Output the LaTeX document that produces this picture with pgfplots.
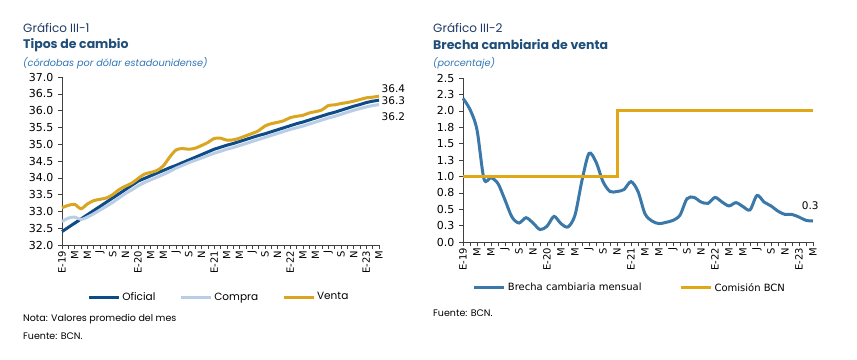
\documentclass[border=0pt]{standalone}
\usepackage{fontspec}
\setmainfont{Poppins}
\newfontfamily\dv{DejaVu Sans}
\usepackage{pgfplots}
\pgfplotsset{compat=1.18}
\definecolor{titblue}{RGB}{31,78,121}
\definecolor{gblue}{RGB}{31,56,100}
\definecolor{subblue}{RGB}{46,117,182}
\definecolor{oficial}{RGB}{14,75,135}
\definecolor{compra}{RGB}{185,205,228}
\definecolor{venta}{RGB}{218,165,32}
\definecolor{brecha}{RGB}{58,120,170}
\definecolor{comision}{RGB}{224,168,20}
\pgfplotsset{
  base/.style={
    scale only axis,
    axis lines=left,
    axis line style={-, draw=black!75, line width=0.8pt},
    tick style={draw=black!75, line width=0.6pt},
    tick align=outside,
    major tick length=4pt,
    minor tick length=4pt,
    xmin=0, xmax=50,
    xtick={0,2,...,50},
    minor xtick={0,1,...,50},
    xticklabels={E-19,M,M,J,S,N,E-20,M,M,J,S,N,E-21,M,M,J,S,N,E-22,M,M,J,S,N,E-23,M},
    x tick label style={rotate=90, anchor=east, font=\dv\fontsize{10}{11}\selectfont, inner sep=1.5pt},
    y tick label style={font=\dv\fontsize{11}{12}\selectfont, inner sep=1.5pt, xshift=-3pt},
    clip=false,
    legend style={draw=none, fill=none, legend columns=3},
    legend image code/.code={\draw[#1, line width=3pt] (0pt,0pt) -- (30pt,0pt);},
  }
}
\begin{document}
\begin{tikzpicture}
\path[use as bounding box] (0pt,0pt) rectangle (857pt,-359pt);
% ---------- left texts
\node[anchor=west, inner sep=0pt, text=gblue, font=\fontsize{12}{14}\selectfont] at (23pt,-27.5pt) {Gráfico III-1};
\node[anchor=west, inner sep=0pt, text=titblue, font=\bfseries\fontsize{12.5}{14}\selectfont] at (23pt,-45pt) {Tipos de cambio};
\node[anchor=west, inner sep=0pt, text=subblue, font=\itshape\fontsize{9.7}{11}\selectfont] at (23pt,-63pt) {(córdobas por dólar estadounidense)};
\node[anchor=west, inner sep=0pt, font=\fontsize{9.5}{11}\selectfont] at (23pt,-319pt) {Nota: Valores promedio del mes};
\node[anchor=west, inner sep=0pt, font=\fontsize{9.5}{11}\selectfont] at (23pt,-336pt) {Fuente: BCN.};
% ---------- right texts
\node[anchor=west, inner sep=0pt, text=gblue, font=\fontsize{12}{14}\selectfont] at (433pt,-27.5pt) {Gráfico III-2};
\node[anchor=west, inner sep=0pt, text=titblue, font=\bfseries\fontsize{12.5}{14}\selectfont] at (433pt,-45pt) {Brecha cambiaria de venta};
\node[anchor=west, inner sep=0pt, text=subblue, font=\itshape\fontsize{9.7}{11}\selectfont] at (433pt,-63pt) {(porcentaje)};
\node[anchor=west, inner sep=0pt, font=\fontsize{9.5}{11}\selectfont] at (433pt,-313pt) {Fuente: BCN.};

% ---------- left chart
\begin{axis}[base,
  at={(62pt,-245pt)}, anchor=south west,
  width=317pt, height=168pt,
  ymin=32, ymax=37,
  ytick={32,32.5,33,33.5,34,34.5,35,35.5,36,36.5,37},
  yticklabels={32.0,32.5,33.0,33.5,34.0,34.5,35.0,35.5,36.0,36.5,37.0},
  legend style={at={(0.495,-0.31)}, anchor=center, font=\fontsize{10.5}{12}\selectfont},
  /tikz/every even column/.append style={column sep=22pt},
]
\addplot[oficial, line width=3pt] coordinates {
(0,32.40)(1,32.525)(2,32.65)(3,32.775)(4,32.90)(5,33.025)(6,33.15)(7,33.275)(8,33.40)(9,33.525)(10,33.65)(11,33.775)(12,33.90)
(13,33.98)(14,34.06)(15,34.14)(16,34.22)(17,34.30)(18,34.37)(19,34.45)(20,34.53)(21,34.61)(22,34.69)(23,34.77)(24,34.85)
(25,34.91)(26,34.97)(27,35.02)(28,35.08)(29,35.14)(30,35.20)(31,35.26)(32,35.31)(33,35.37)(34,35.43)(35,35.49)(36,35.55)
(37,35.61)(38,35.66)(39,35.72)(40,35.78)(41,35.84)(42,35.90)(43,35.95)(44,36.01)(45,36.07)(46,36.13)(47,36.18)(48,36.24)
(49,36.28)(50,36.31)};
\addlegendentry{Oficial}
\addplot[compra, line width=3pt, smooth] coordinates {
(0,32.70)(1,32.80)(2,32.83)(3,32.76)(4,32.83)(5,32.93)(6,33.04)(7,33.15)(8,33.27)(9,33.40)(10,33.53)(11,33.64)(12,33.76)
(13,33.86)(14,33.94)(15,34.02)(16,34.10)(17,34.19)(18,34.29)(19,34.37)(20,34.45)(21,34.52)(22,34.59)(23,34.66)(24,34.73)
(25,34.79)(26,34.85)(27,34.90)(28,34.96)(29,35.02)(30,35.08)(31,35.14)(32,35.20)(33,35.26)(34,35.32)(35,35.38)(36,35.44)
(37,35.49)(38,35.54)(39,35.60)(40,35.66)(41,35.72)(42,35.78)(43,35.83)(44,35.89)(45,35.95)(46,36.01)(47,36.06)(48,36.11)
(49,36.15)(50,36.18)};
\addlegendentry{Compra}
\addplot[venta, line width=3pt, smooth] coordinates {
(0,33.11)(1,33.18)(2,33.21)(3,33.08)(4,33.22)(5,33.32)(6,33.36)(7,33.40)(8,33.50)(9,33.65)(10,33.75)(11,33.84)(12,33.98)
(13,34.11)(14,34.16)(15,34.22)(16,34.36)(17,34.62)(18,34.83)(19,34.87)(20,34.85)(21,34.88)(22,34.96)(23,35.05)(24,35.17)
(25,35.18)(26,35.12)(27,35.13)(28,35.18)(29,35.25)(30,35.32)(31,35.40)(32,35.54)(33,35.61)(34,35.65)(35,35.70)(36,35.79)
(37,35.83)(38,35.86)(39,35.93)(40,35.97)(41,36.02)(42,36.15)(43,36.17)(44,36.21)(45,36.24)(46,36.28)(47,36.33)(48,36.38)
(49,36.40)(50,36.43)};
\addlegendentry{Venta}
\node[anchor=west, inner sep=0pt, font=\dv\fontsize{10.5}{12}\selectfont] at (axis cs:50.4,36.64) {36.4};
\node[anchor=west, inner sep=0pt, font=\dv\fontsize{10.5}{12}\selectfont] at (axis cs:50.4,36.29) {36.3};
\node[anchor=west, inner sep=0pt, font=\dv\fontsize{10.5}{12}\selectfont] at (axis cs:50.4,35.81) {36.2};
\end{axis}

% ---------- right chart
\begin{axis}[base,
  at={(463pt,-242pt)}, anchor=south west,
  width=350pt, height=164pt,
  ymin=0, ymax=2.5,
  ytick={0,0.25,0.5,0.75,1,1.25,1.5,1.75,2,2.25,2.5},
  yticklabels={0.0,0.3,0.5,0.8,1.0,1.3,1.5,1.8,2.0,2.3,2.5},
  legend style={at={(0.477,-0.28)}, anchor=center, font=\dv\fontsize{10}{12}\selectfont},
  /tikz/every even column/.append style={column sep=36pt},
]
\addplot[brecha, line width=3pt, smooth] coordinates {
(0,2.19)(1,2.02)(2,1.71)(3,0.96)(4,0.98)(5,0.89)(6,0.64)(7,0.38)(8,0.29)(9,0.37)(10,0.29)
(11,0.19)(12,0.24)(13,0.39)(14,0.28)(15,0.23)(16,0.41)(17,0.94)(18,1.35)(19,1.22)(20,0.92)
(21,0.77)(22,0.77)(23,0.80)(24,0.92)(25,0.77)(26,0.43)(27,0.32)(28,0.28)(29,0.30)(30,0.33)
(31,0.41)(32,0.66)(33,0.68)(34,0.61)(35,0.59)(36,0.68)(37,0.61)(38,0.55)(39,0.60)(40,0.54)
(41,0.49)(42,0.71)(43,0.61)(44,0.55)(45,0.47)(46,0.42)(47,0.42)(48,0.38)(49,0.33)(50,0.32)};
\addlegendentry{Brecha cambiaria mensual}
\addplot[comision, line width=3pt] coordinates {(0,1)(22,1)(22,2)(50,2)};
\addlegendentry{Comisión BCN}
\node[font=\dv\fontsize{10.5}{12}\selectfont] at (axis cs:49.6,0.55) {0.3};
\end{axis}
\end{tikzpicture}
\end{document}
